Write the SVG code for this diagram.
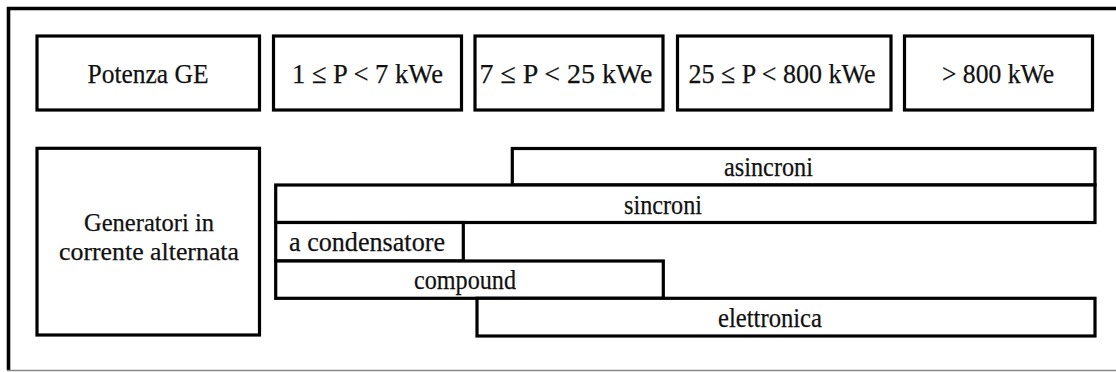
<svg xmlns="http://www.w3.org/2000/svg" width="1116" height="372" viewBox="0 0 1116 372">
<style>
.box{fill:#fff;stroke:#000;stroke-width:3.2}
text{font-family:'Liberation Serif','Times New Roman',serif;font-size:28px;fill:#111;stroke:#111;stroke-width:0.25;text-anchor:middle}
.two{font-size:25px}
</style>
<rect width="1116" height="372" fill="#fff"/>
<g id="frame">
<line x1="8.5" y1="7" x2="8.5" y2="370" stroke="#000" stroke-width="3.6"/>
<line x1="7" y1="8.5" x2="1116" y2="8.5" stroke="#000" stroke-width="3.6"/>
<line x1="7" y1="370.5" x2="1116" y2="370.5" stroke="#888" stroke-width="1.5"/>
</g>
<g id="hdr-potenza"><rect class="box" x="37" y="36" width="222.5" height="74"/><text x="148" y="83" textLength="121" lengthAdjust="spacingAndGlyphs">Potenza GE</text></g>
<g id="hdr-1-7"><rect class="box" x="273.5" y="36" width="188" height="74"/><text x="367.5" y="83" textLength="151" lengthAdjust="spacingAndGlyphs">1 ≤ P &lt; 7 kWe</text></g>
<g id="hdr-7-25"><rect class="box" x="475" y="36" width="188" height="74"/><text x="566" y="83" textLength="173" lengthAdjust="spacingAndGlyphs">7 ≤ P &lt; 25 kWe</text></g>
<g id="hdr-25-800"><rect class="box" x="677.5" y="36" width="213.5" height="74"/><text x="782" y="83" textLength="187" lengthAdjust="spacingAndGlyphs">25 ≤ P &lt; 800 kWe</text></g>
<g id="hdr-800"><rect class="box" x="904.5" y="36" width="188" height="74"/><text x="998" y="83" textLength="112" lengthAdjust="spacingAndGlyphs">&gt; 800 kWe</text></g>
<g id="generatori"><rect class="box" x="37" y="148.3" width="222.5" height="186.7"/><text class="two" x="149" y="231" textLength="130" lengthAdjust="spacingAndGlyphs">Generatori in</text><text class="two" x="149" y="260" textLength="180" lengthAdjust="spacingAndGlyphs">corrente alternata</text></g>
<g id="asincroni"><rect class="box" x="512.3" y="148.5" width="582.7" height="36.5"/><text x="768.5" y="176" textLength="89" lengthAdjust="spacingAndGlyphs">asincroni</text></g>
<g id="sincroni"><rect class="box" x="275.7" y="185" width="819.3" height="37.5"/><text x="663" y="214" textLength="78" lengthAdjust="spacingAndGlyphs">sincroni</text></g>
<g id="condensatore"><rect class="box" x="275.7" y="222.5" width="187.6" height="38.5"/><text x="367" y="251" textLength="156" lengthAdjust="spacingAndGlyphs">a condensatore</text></g>
<g id="compound"><rect class="box" x="275.7" y="261" width="387.6" height="37.3"/><text x="465" y="289" textLength="102" lengthAdjust="spacingAndGlyphs">compound</text></g>
<g id="elettronica"><rect class="box" x="477" y="298.3" width="618" height="37.7"/><text x="770" y="327" textLength="104" lengthAdjust="spacingAndGlyphs">elettronica</text></g>
<g id="connectors"/>
</svg>
